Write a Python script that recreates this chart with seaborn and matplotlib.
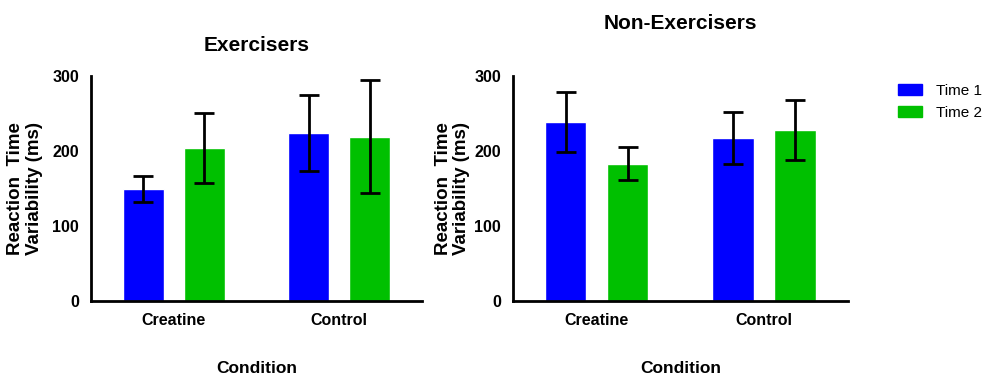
import numpy as np
import pandas as pd
import seaborn as sns
import matplotlib.pyplot as plt

conditions = ['Creatine', 'Control']
times = ['Time 1', 'Time 2']

# means (ms), order: [Creatine, Control]
ex_time1 = [149, 224]
ex_time2 = [204, 219]
non_time1 = [238, 217]
non_time2 = [183, 228]

# error bar half-lengths
ex_err1 = [17, 51]
ex_err2 = [47, 75]
non_err1 = [40, 35]
non_err2 = [22, 40]

colores = ['#0000ff', '#00c000']


def arma_df(t1, t2):
    '''DataFrame largo para seaborn'''
    return pd.DataFrame({
        'Condition': conditions * 2,
        'Time': [times[0]] * 2 + [times[1]] * 2,
        'value': list(t1) + list(t2),
    })


def panel(ax, df, errores, titulo, pad, ylabpad):
    sns.barplot(data=df, x='Condition', y='value', hue='Time', order=conditions,
                hue_order=times, palette=colores, errorbar=None, width=0.74,
                gap=0.33, saturation=1, legend=False, ax=ax)
    # error bars sobre cada barra (orden de patches: hue, luego categoría)
    barras = [p for p in ax.patches if p.get_height() > 0]
    for p, e in zip(barras, errores):
        ax.errorbar(p.get_x() + p.get_width() / 2, p.get_height(), yerr=e,
                    color='black', capsize=7.5, elinewidth=2, capthick=2, fmt='none')
    ax.set_ylim(0, 300)
    ax.set_xlim(-0.5, 1.5)
    ax.set_yticks([0, 100, 200, 300])
    ax.set_title(titulo, fontsize=15, fontweight='bold', pad=pad, color='black')
    ax.set_xlabel('Condition', fontsize=12.5, fontweight='bold', labelpad=24, color='black')
    ax.set_ylabel('Reaction  Time\nVariability (ms)', fontsize=13.5, color='black',
                  fontweight='bold', labelpad=ylabpad, linespacing=1.1)
    for label in ax.get_xticklabels() + ax.get_yticklabels():
        label.set_fontsize(11.5)
        label.set_fontweight('bold')
    sns.despine(ax=ax)
    for s in ['left', 'bottom']:
        ax.spines[s].set_linewidth(2)
        ax.spines[s].set_color('black')
    ax.tick_params(axis='both', width=2, length=5, color='black', labelcolor='black')


sns.set_style('white')
plt.rcParams['font.family'] = ['Liberation Sans', 'DejaVu Sans']
plt.rcParams['text.color'] = 'black'

fig = plt.figure(figsize=(9.92, 3.79), dpi=100)
ax1 = fig.add_axes([0.0917, 0.2066, 0.3337, 0.593])
ax2 = fig.add_axes([0.5171, 0.2058, 0.3377, 0.5937])

panel(ax1, arma_df(ex_time1, ex_time2), ex_err1 + ex_err2, 'Exercisers', 18, 7)
panel(ax2, arma_df(non_time1, non_time2), non_err1 + non_err2, 'Non-Exercisers', 34, 3)

handles = [plt.Rectangle((0, 0), 1, 1, color=c) for c in colores]
fig.legend(handles, times, loc='upper left', bbox_to_anchor=(0.891, 0.815),
           frameon=False, fontsize=11, handlelength=1.6, handleheight=0.75,
           handletextpad=0.9, labelspacing=0.5)

fig.savefig('out.png', dpi=100)
